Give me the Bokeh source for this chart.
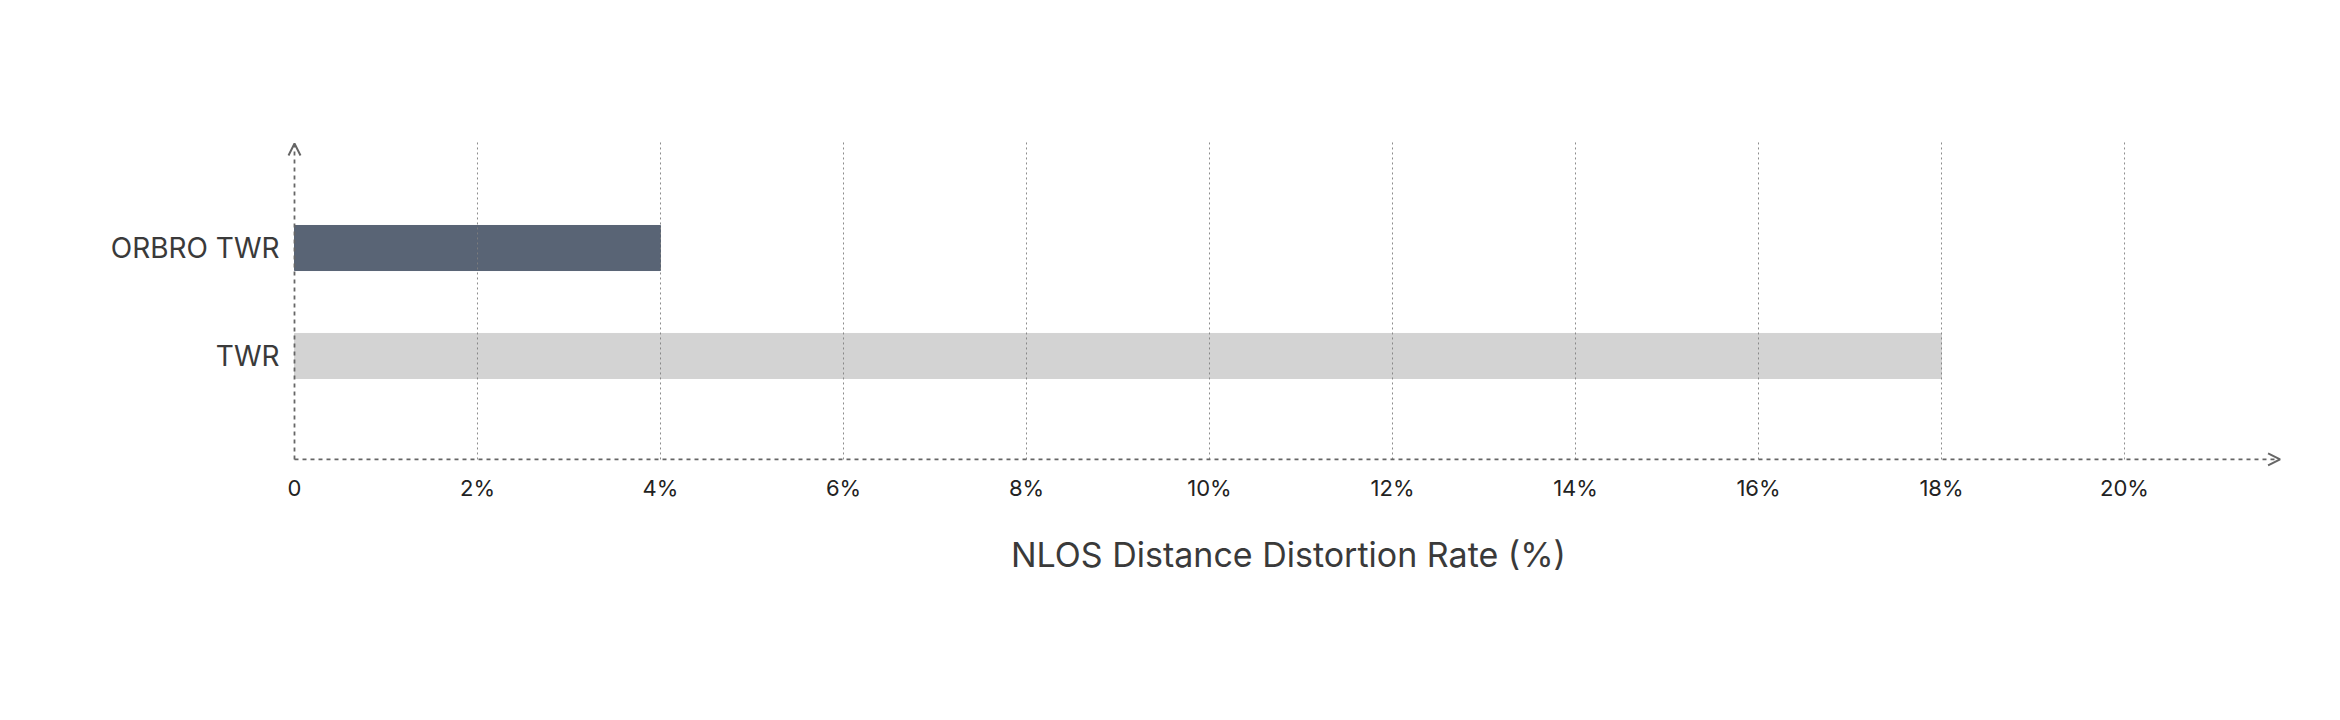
from bokeh.plotting import figure
from bokeh.models import Range1d, FixedTicker, Arrow, OpenHead, ColumnDataSource
from bokeh.embed import file_html
from bokeh.resources import INLINE

# Data
categories = ["TWR", "ORBRO TWR"]
values = [18, 4]
bar_colors = ["#d3d3d3", "#596475"]
x_ticks = [0, 2, 4, 6, 8, 10, 12, 14, 16, 18, 20]
x_tick_labels = ["0", "2%", "4%", "6%", "8%", "10%", "12%", "14%", "16%", "18%", "20%"]
x_title = "NLOS Distance Distortion Rate (%)"

FONT = "Inter"
# axis extents (data units) and the visible frame (slightly padded so arrowheads are not clipped)
AX_Y0, GRID_Y1, AX_Y1 = -0.958, 1.995, 1.968
AX_X1 = 21.70
FR_X0, FR_X1 = -0.0874, 21.814
FR_Y0, FR_Y1 = -1.0324, 2.088

ys = list(range(len(categories)))
src = ColumnDataSource(dict(y=ys, v=values, c=bar_colors, name=categories))

p = figure(width=2324, height=704, output_backend="svg", toolbar_location=None,
           x_range=Range1d(FR_X0, FR_X1), y_range=Range1d(FR_Y0, FR_Y1),
           min_border_left=286, min_border_right=34, min_border_top=130, min_border_bottom=237)
p.outline_line_color = None
p.background_fill_color = "white"
p.border_fill_color = "white"
p.xgrid.grid_line_color = None
p.ygrid.grid_line_color = None

p.hbar(y="y", left=0, right="v", height=0.417, color="c", source=src)

# vertical dotted gridlines
gx = x_ticks[1:]
p.segment(x0=gx, x1=gx, y0=[AX_Y0] * len(gx), y1=[GRID_Y1] * len(gx),
          line_color="#808080", line_dash="2 3", line_width=1, line_alpha=0.9)

# x axis
xa = p.xaxis[0]
xa.ticker = FixedTicker(ticks=x_ticks)
xa.major_label_overrides = {t: l for t, l in zip(x_ticks, x_tick_labels)}
xa.axis_line_color = None
xa.major_tick_line_color = None
xa.minor_tick_line_color = None
xa.major_tick_out = 0
xa.major_tick_in = 0
xa.major_label_text_font = FONT
xa.major_label_text_font_size = "22px"
xa.major_label_text_color = "#222222"
xa.major_label_standoff = 7
xa.axis_label = x_title
xa.axis_label_text_font = FONT
xa.axis_label_text_font_size = "34px"
xa.axis_label_text_font_style = "normal"
xa.axis_label_text_color = "#3a3a3a"
xa.axis_label_standoff = 30

# y axis
ya = p.yaxis[0]
ya.ticker = FixedTicker(ticks=ys)
ya.major_label_overrides = {i: n for i, n in zip(ys, categories)}
ya.axis_line_color = None
ya.major_tick_line_color = None
ya.minor_tick_line_color = None
ya.major_tick_out = 0
ya.major_tick_in = 0
ya.major_label_text_font = FONT
ya.major_label_text_font_size = "28px"
ya.major_label_text_color = "#3a3a3a"
ya.major_label_standoff = 7

# axis lines with arrows
p.add_layout(Arrow(x_start=0, y_start=AX_Y0, x_end=AX_X1, y_end=AX_Y0,
                   line_color="#666666", line_width=1.8, line_dash="4 4",
                   end=OpenHead(size=12, line_color="#666666", line_width=2)))
p.add_layout(Arrow(x_start=0, y_start=AX_Y0, x_end=0, y_end=AX_Y1,
                   line_color="#666666", line_width=1.8, line_dash="4 4",
                   end=OpenHead(size=12, line_color="#666666", line_width=2)))

open("out.html", "w").write(file_html(p, INLINE))
